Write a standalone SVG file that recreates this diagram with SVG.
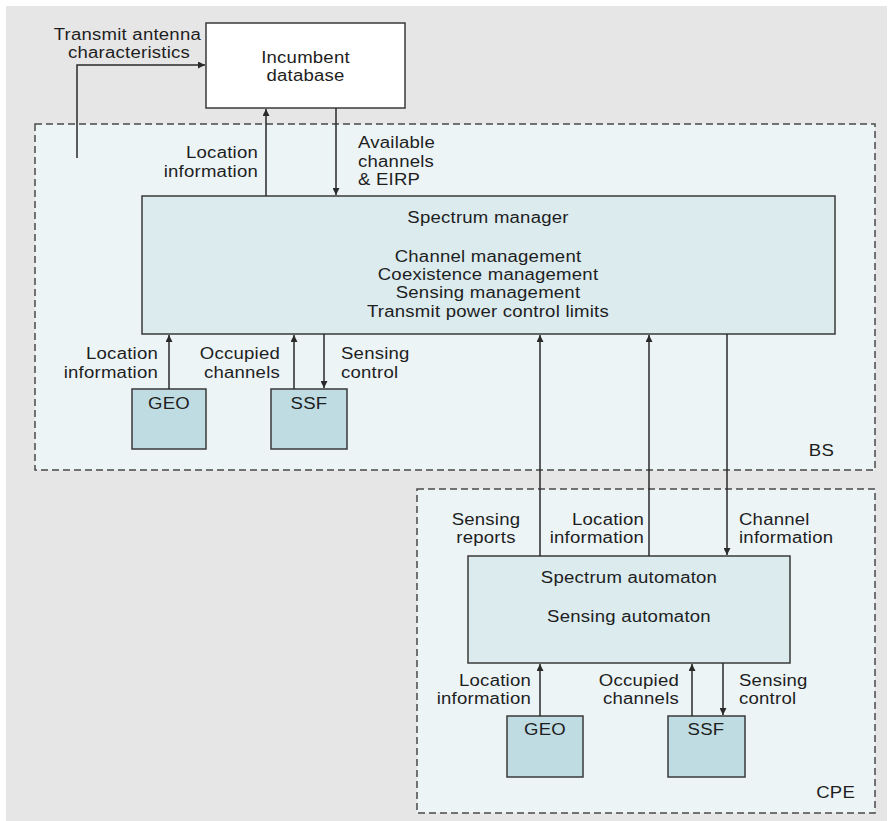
<svg xmlns="http://www.w3.org/2000/svg" width="891" height="821" viewBox="0 0 891 821">
<defs>
<marker id="ah" viewBox="0 0 10 10" refX="10" refY="5" markerWidth="9" markerHeight="7" markerUnits="userSpaceOnUse" orient="auto">
<path d="M0,0 L10,5 L0,10 z" fill="#2a2a2a"/>
</marker>
<style>
text{font-family:"Liberation Sans",Arial,sans-serif;font-size:16px;letter-spacing:0.2px;fill:#1e1e1e;}
.m{text-anchor:middle}
.e{text-anchor:end}
.box{stroke:#3a3a3a;stroke-width:1.5}
.grp{fill:#ecf4f6;stroke:#4a4a4a;stroke-width:1.5;stroke-dasharray:7 4}
.c line,.c path{stroke:#2a2a2a;stroke-width:1.5;fill:none}
</style>
</defs>
<rect x="0" y="0" width="891" height="821" fill="#ffffff"/>
<rect x="6" y="6" width="881" height="815" fill="#e6e6e6"/>

<g id="bs">
<rect class="grp" x="35" y="124" width="840" height="346"/>
<text transform="translate(834,456) scale(1.16,1)" class="e">BS</text>
</g>
<g id="cpe">
<rect class="grp" x="417" y="489" width="458" height="324"/>
<text transform="translate(855,798) scale(1.16,1)" class="e">CPE</text>
</g>

<g id="incumbent">
<rect class="box" x="206" y="23" width="199" height="85" fill="#ffffff"/>
<text transform="translate(305.5,63) scale(1.16,1)" class="m">Incumbent</text>
<text transform="translate(305.5,81) scale(1.16,1)" class="m">database</text>
</g>

<g id="spectrum-manager">
<rect class="box" x="142" y="196" width="693" height="138" fill="#dbebee"/>
<text transform="translate(488,223) scale(1.16,1)" class="m">Spectrum manager</text>
<text transform="translate(488,262) scale(1.16,1)" class="m">Channel management</text>
<text transform="translate(488,280) scale(1.16,1)" class="m">Coexistence management</text>
<text transform="translate(488,298) scale(1.16,1)" class="m">Sensing management</text>
<text transform="translate(488,317) scale(1.16,1)" class="m">Transmit power control limits</text>
</g>

<g id="bs-geo">
<rect class="box" x="132" y="389" width="74" height="60" fill="#bfdce2"/>
<text transform="translate(169,409) scale(1.16,1)" class="m">GEO</text>
</g>
<g id="bs-ssf">
<rect class="box" x="271" y="389" width="76" height="60" fill="#bfdce2"/>
<text transform="translate(309,409) scale(1.16,1)" class="m">SSF</text>
</g>

<g id="spectrum-automaton">
<rect class="box" x="468" y="556" width="322" height="107" fill="#dbebee"/>
<text transform="translate(629,583) scale(1.16,1)" class="m">Spectrum automaton</text>
<text transform="translate(629,622) scale(1.16,1)" class="m">Sensing automaton</text>
</g>

<g id="cpe-geo">
<rect class="box" x="507" y="716" width="76" height="61" fill="#bfdce2"/>
<text transform="translate(545,735) scale(1.16,1)" class="m">GEO</text>
</g>
<g id="cpe-ssf">
<rect class="box" x="668" y="716" width="77" height="61" fill="#bfdce2"/>
<text transform="translate(706,735) scale(1.16,1)" class="m">SSF</text>
</g>

<g id="connectors" class="c">
<path d="M77,158 V65 H205" marker-end="url(#ah)"/>
<line x1="266" y1="196" x2="266" y2="109" marker-end="url(#ah)"/>
<line x1="336" y1="108" x2="336" y2="195" marker-end="url(#ah)"/>
<line x1="169" y1="389" x2="169" y2="335" marker-end="url(#ah)"/>
<line x1="294" y1="389" x2="294" y2="335" marker-end="url(#ah)"/>
<line x1="324" y1="334" x2="324" y2="388" marker-end="url(#ah)"/>
<line x1="540" y1="556" x2="540" y2="335" marker-end="url(#ah)"/>
<line x1="649" y1="556" x2="649" y2="335" marker-end="url(#ah)"/>
<line x1="727" y1="334" x2="727" y2="555" marker-end="url(#ah)"/>
<line x1="540" y1="716" x2="540" y2="664" marker-end="url(#ah)"/>
<line x1="692" y1="716" x2="692" y2="664" marker-end="url(#ah)"/>
<line x1="723" y1="663" x2="723" y2="715" marker-end="url(#ah)"/>
</g>

<g id="labels">
<text transform="translate(201,40) scale(1.16,1)" class="e">Transmit antenna</text>
<text transform="translate(190,58) scale(1.16,1)" class="e">characteristics</text>
<text transform="translate(258,158) scale(1.16,1)" class="e">Location</text>
<text transform="translate(258,177) scale(1.16,1)" class="e">information</text>
<text transform="translate(358,148) scale(1.16,1)">Available</text>
<text transform="translate(358,167) scale(1.16,1)">channels</text>
<text transform="translate(358,185) scale(1.16,1)">&amp; EIRP</text>
<text transform="translate(158,359) scale(1.16,1)" class="e">Location</text>
<text transform="translate(158,378) scale(1.16,1)" class="e">information</text>
<text transform="translate(280,359) scale(1.16,1)" class="e">Occupied</text>
<text transform="translate(280,378) scale(1.16,1)" class="e">channels</text>
<text transform="translate(341,359) scale(1.16,1)">Sensing</text>
<text transform="translate(341,378) scale(1.16,1)">control</text>
<text transform="translate(486,525) scale(1.16,1)" class="m">Sensing</text>
<text transform="translate(486,543) scale(1.16,1)" class="m">reports</text>
<text transform="translate(644,525) scale(1.16,1)" class="e">Location</text>
<text transform="translate(644,543) scale(1.16,1)" class="e">information</text>
<text transform="translate(739,525) scale(1.16,1)">Channel</text>
<text transform="translate(739,543) scale(1.16,1)">information</text>
<text transform="translate(531,686) scale(1.16,1)" class="e">Location</text>
<text transform="translate(531,704) scale(1.16,1)" class="e">information</text>
<text transform="translate(679,686) scale(1.16,1)" class="e">Occupied</text>
<text transform="translate(679,704) scale(1.16,1)" class="e">channels</text>
<text transform="translate(739,686) scale(1.16,1)">Sensing</text>
<text transform="translate(739,704) scale(1.16,1)">control</text>
</g>
</svg>
